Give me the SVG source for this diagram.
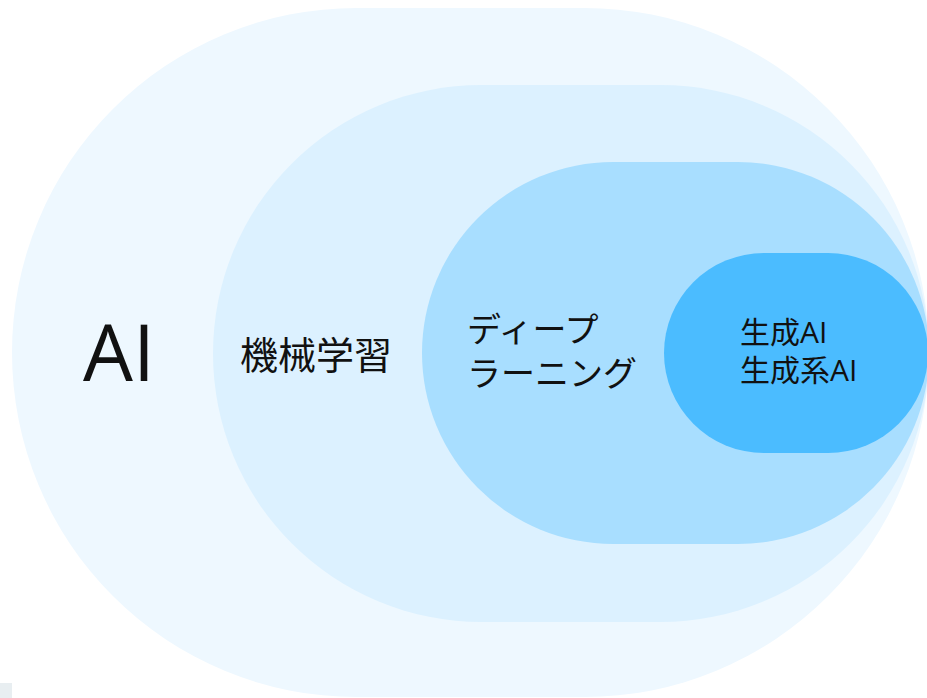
<svg xmlns="http://www.w3.org/2000/svg" width="927" height="698" viewBox="0 0 927 698">
<style>
.t{font-family:"Open Sans","Noto Sans CJK JP",sans-serif;fill:#111;}
</style>
<rect width="927" height="698" fill="#ffffff"/>
<rect x="0" y="683" width="12" height="15" fill="#E8EEF1"/>
<g id="ai">
<rect x="12" y="8" width="917" height="689" rx="344.5" ry="344.5" fill="#EEF8FF"/>
<text class="t" x="83" y="381" font-size="79">AI</text>
</g>
<g id="ml">
<rect x="213" y="85" width="716" height="537" rx="268.5" ry="268.5" fill="#DCF1FF"/>
<text class="t" x="240" y="369" font-size="38">機械学習</text>
</g>
<g id="dl">
<rect x="422" y="162" width="507" height="382" rx="191" ry="191" fill="#A8DEFF"/>
<text class="t" x="467" y="342" font-size="34">ディープ</text>
<text class="t" x="467" y="386" font-size="34">ラーニング</text>
</g>
<g id="gen">
<rect x="664" y="253" width="264" height="200" rx="100" ry="100" fill="#4BBCFF"/>
<text class="t" x="740" y="343" font-size="30">生成AI</text>
<text class="t" x="740" y="381" font-size="30">生成系AI</text>
</g>
<g id="connectors"/>
</svg>
